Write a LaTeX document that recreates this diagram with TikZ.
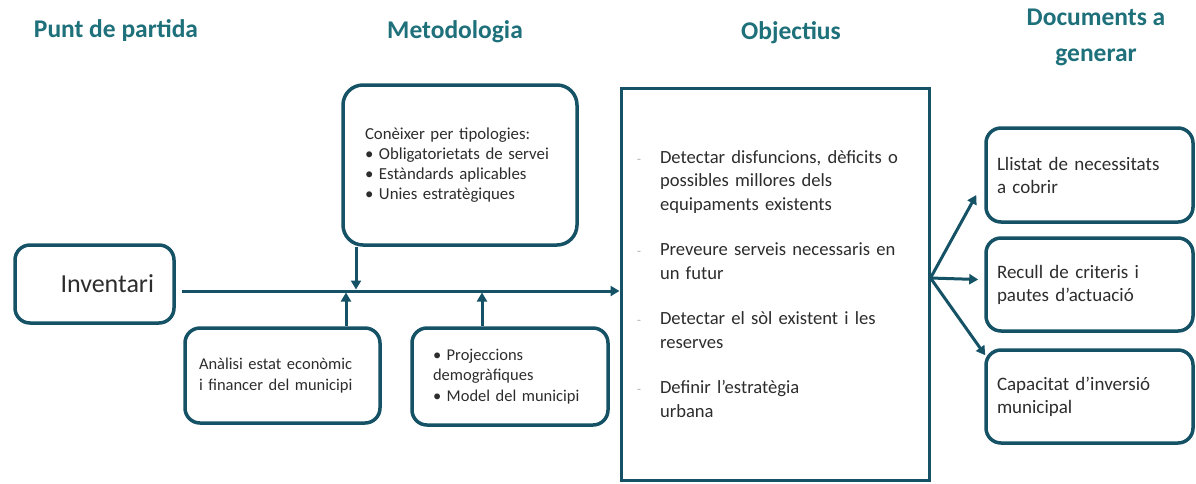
\documentclass[tikz,border=0pt]{standalone}
\usepackage{fontspec}
\setmainfont{Carlito}
\usetikzlibrary{arrows.meta,calc}
\definecolor{bord}{RGB}{22,82,102}
\definecolor{ttl}{RGB}{30,112,122}
\definecolor{txt}{RGB}{45,45,45}
\definecolor{dashc}{RGB}{175,175,175}
\newcommand{\objdash}{\leavevmode\llap{\textcolor{dashc}{\fontsize{13}{13}\selectfont -}\hspace{19pt}}}
\begin{document}
\begin{tikzpicture}[x=1pt,y=-1pt,
  ttlnode/.style={text=ttl, font=\fontsize{25.5}{36}\selectfont\bfseries, align=center, inner sep=0pt},
  rbox/.style={draw=bord, line width=3.5pt, rounded corners=15pt, fill=white, text=txt, inner ysep=0pt},
  conn/.style={draw=bord, line width=3pt, -{Triangle[length=9pt,width=10pt]}},
]
\fill[white] (0,0) rectangle (1196,483);
\useasboundingbox (0,0) rectangle (1196,483);

% titles
\node[ttlnode] (t-punt) at (116,31) {Punt de partida};
\node[ttlnode] (t-met) at (455,32) {Metodologia};
\node[ttlnode] (t-obj) at (791,33) {Objectius};
\node[ttlnode] (t-doc) at (1096,37) {Documents a\\generar};

% punt de partida
\node[rbox, minimum width=159, minimum height=78, text width=119, inner xsep=20,
  align=right, font=\fontsize{26}{30}\selectfont] (inv) at (94.5,284) {Inventari};

% metodologia
\node[rbox, rounded corners=20pt, minimum width=234, minimum height=160, text width=190,
  inner xsep=22, align=left, font=\fontsize{16.8}{20}\selectfont] (met) at (460,165)
  {\mbox{Conèixer per tipologies:}\\\mbox{• Obligatorietats de servei}\\\mbox{• Estàndards aplicables}\\\mbox{• Unies estratègiques}};

\node[rbox, minimum width=195, minimum height=95, text width=167, inner xsep=14,
  align=left, font=\fontsize{16.5}{21}\selectfont] (b1) at (282.5,375.5)
  {\mbox{Anàlisi estat econòmic}\\\mbox{i financer del municipi}};

\node[rbox, minimum width=196, minimum height=97, text width=154, inner xsep=21,
  align=left, font=\fontsize{16.5}{20.5}\selectfont] (b2) at (510,376.5)
  {\mbox{• Projeccions}\\\mbox{demogràfiques}\\\mbox{• Model del municipi}};

% objectius
\node[draw=bord, line width=3pt, fill=white, minimum width=308, minimum height=392,
  text width=230, inner xsep=39, inner ysep=0pt, align=left, text=txt,
  font=\fontsize{18.6}{23.5}\selectfont] (obj) at (775,284)
  {\objdash\mbox{Detectar disfuncions, dèficits o}\\
   \mbox{possibles millores dels}\\
   \mbox{equipaments existents}\\[22pt]
   \objdash\mbox{Preveure serveis necessaris en}\\
   \mbox{un futur}\\[22pt]
   \objdash\mbox{Detectar el sòl existent i les}\\
   \mbox{reserves}\\[22pt]
   \objdash\mbox{Definir l’estratègia}\\
   \mbox{urbana}};

% documents
\node[rbox, minimum width=207, minimum height=94, text width=185, inner xsep=11,
  align=left, font=\fontsize{19}{23}\selectfont] (d1) at (1089.5,175)
  {\mbox{Llistat de necessitats}\\\mbox{a cobrir}};
\node[rbox, minimum width=207, minimum height=93, text width=185, inner xsep=11,
  align=left, font=\fontsize{19}{23}\selectfont] (d2) at (1089.5,284.5)
  {\mbox{Recull de criteris i}\\\mbox{pautes d’actuació}};
\node[rbox, minimum width=207, minimum height=93, text width=185, inner xsep=11,
  align=left, font=\fontsize{19}{23}\selectfont] (d3) at (1089.5,396.5)
  {\mbox{Capacitat d’inversió}\\\mbox{municipal}};

% connectors
\coordinate (ls) at (182,291);
\coordinate (jd) at (356,289.5);
\coordinate (ju1) at (346,292.5);
\coordinate (ju2) at (482,292.5);
\draw[conn] (ls) -- (obj.west |- ls);
\draw[conn] (met.south -| jd) -- (jd);
\draw[conn] (b1.north -| ju1) -- (ju1);
\draw[conn] (b2.north -| ju2) -- (ju2);

\coordinate (fan) at (obj.east |- 0,278);
\coordinate (e1) at ($(d1.west)+(-8,20)$);
\coordinate (e2) at ($(d2.west)+(-6,-5)$);
\coordinate (e3) at ($(d3.north west)+(1,7)$);
\draw[conn] (fan) -- (e1);
\draw[conn] (fan) -- (e2);
\draw[conn] (fan) -- (e3);
\end{tikzpicture}
\end{document}
